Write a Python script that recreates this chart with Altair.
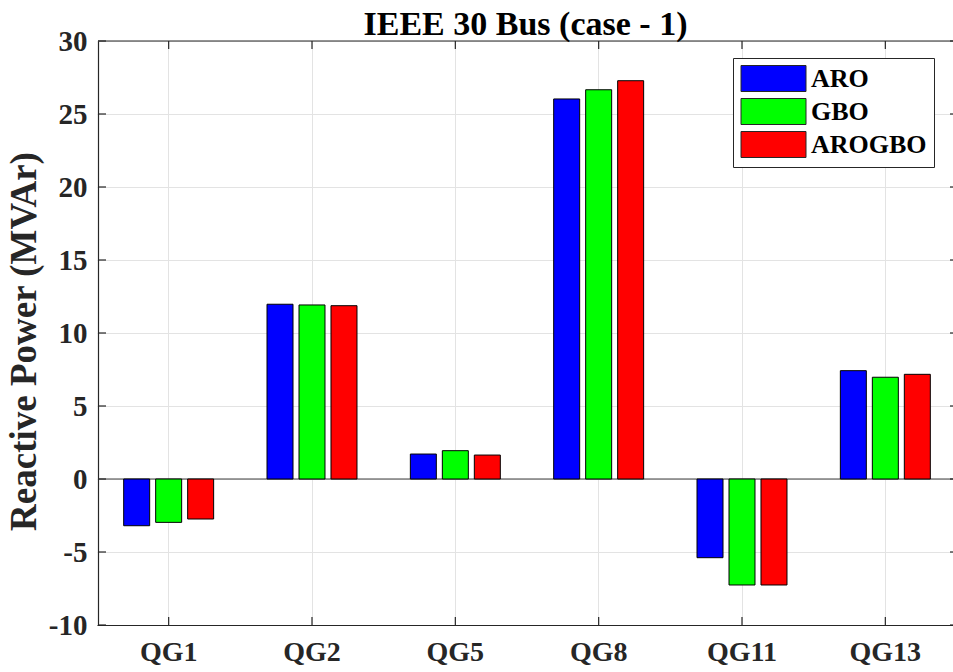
import altair as alt
import pandas as pd

# Reactive power output of each generator, per optimisation method
generators = ["QG1", "QG2", "QG5", "QG8", "QG11", "QG13"]
methods = ["ARO", "GBO", "AROGBO"]
aro = [-3.20, 11.97, 1.71, 26.03, -5.39, 7.42]
gbo = [-2.97, 11.92, 1.94, 26.66, -7.26, 6.97]
arogbo = [-2.74, 11.87, 1.64, 27.28, -7.26, 7.17]
y_ticks = [-10, -5, 0, 5, 10, 15, 20, 25, 30]
colors = ["#0000ff", "#00ff00", "#ff0000"]

rows = []
for m, vals in zip(methods, [aro, gbo, arogbo]):
    for g, v in zip(generators, vals):
        rows.append({"gen": g, "method": m, "value": v})
df = pd.DataFrame(rows)
ticks_df = pd.DataFrame({"t": y_ticks})
gen_df = pd.DataFrame({"gen": generators})

W, H = 855, 584
FONT = "Liberation Serif"

x_scale = alt.Scale(domain=generators, range=[-1, 859], paddingInner=0, paddingOuter=0)
y_scale = alt.Scale(domain=[-10, 30], nice=False, zero=False)

bars = alt.Chart(df).mark_bar(stroke="#000000", strokeWidth=1).encode(
    x=alt.X("gen:N", scale=x_scale, sort=generators,
            axis=alt.Axis(title=None, labelAngle=0, ticks=False, domain=True,
                          domainColor="#262626", domainWidth=1.2,
                          grid=True, gridColor="#e3e3e3", bandPosition=0.5,
                          labelFont=FONT, labelFontSize=28, labelFontWeight="bold",
                          labelColor="#262626", labelPadding=13)),
    xOffset=alt.XOffset("method:N", sort=methods,
                        scale=alt.Scale(paddingInner=0.1875, paddingOuter=0.834)),
    y=alt.Y("value:Q", scale=y_scale,
            axis=alt.Axis(title="Reactive Power (MVAr)", values=y_ticks, ticks=False,
                          labelExpr="'' + datum.value",
                          domain=True, domainColor="#262626", domainWidth=1.2,
                          grid=True, gridColor="#e3e3e3",
                          labelFont=FONT, labelFontSize=29, labelFontWeight="bold",
                          labelColor="#262626", labelPadding=11,
                          titleFont=FONT, titleFontSize=37, titleFontWeight="bold",
                          titleColor="#262626", titleX=-63, titleY=300,
                          titleBaseline="alphabetic", titleAngle=270)),
    color=alt.Color("method:N", sort=methods,
                    scale=alt.Scale(domain=methods, range=colors),
                    legend=alt.Legend(
                        title=None, orient="none", legendX=635, legendY=17,
                        symbolType="M-2.5,-1H2.5V1H-2.5Z", symbolSize=676,
                        symbolStrokeColor="#262626", symbolStrokeWidth=1,
                        symbolOpacity=1, symbolOffset=20, labelOffset=24,
                        labelFont=FONT, labelFontSize=26, labelFontWeight="bold",
                        labelColor="#000000", rowPadding=2, padding=7,
                        strokeColor="#262626", fillColor="#ffffff")),
)

# baseline at zero
zero_line = alt.Chart(pd.DataFrame({"z": [0]})).mark_rule(
    color="#404040", strokeWidth=1.2).encode(y=alt.Y("z:Q", scale=y_scale))

# top frame line
top_line = alt.Chart(pd.DataFrame({"z": [30]})).mark_rule(
    color="#262626", strokeWidth=1.2).encode(
    y=alt.Y("z:Q", scale=y_scale), x=alt.value(0), x2=alt.value(W))

# inward tick marks on all four sides
tick_len = 8
y_ticks_left = alt.Chart(ticks_df).mark_rule(color="#262626", strokeWidth=1.2).encode(
    y=alt.Y("t:Q", scale=y_scale), x=alt.value(0), x2=alt.value(tick_len))
y_ticks_right = alt.Chart(ticks_df).mark_rule(color="#262626", strokeWidth=1.2).encode(
    y=alt.Y("t:Q", scale=y_scale), x=alt.value(860 - tick_len), x2=alt.value(860))
x_ticks_bottom = alt.Chart(gen_df).mark_rule(color="#262626", strokeWidth=1.2).encode(
    x=alt.X("gen:N", scale=x_scale, sort=generators, bandPosition=0.5),
    y=alt.value(H - tick_len), y2=alt.value(H))
x_ticks_top = alt.Chart(gen_df).mark_rule(color="#262626", strokeWidth=1.2).encode(
    x=alt.X("gen:N", scale=x_scale, sort=generators, bandPosition=0.5),
    y=alt.value(0), y2=alt.value(tick_len))

chart = alt.layer(
    zero_line, bars, top_line,
    y_ticks_left, y_ticks_right, x_ticks_bottom, x_ticks_top,
).properties(
    width=W, height=H,
    title=alt.TitleParams("IEEE 30 Bus (case - 1)", font=FONT, fontSize=34,
                          fontWeight="bold", color="#000000", offset=2, dy=17,
                          anchor="middle"),
    autosize=alt.AutoSizeParams(type="none"),
    padding={"left": 98, "top": 41, "right": 0, "bottom": 47},
    background="#ffffff",
).configure_view(stroke=None)

chart.save("out.html", embed_options={"renderer": "svg", "actions": False})
